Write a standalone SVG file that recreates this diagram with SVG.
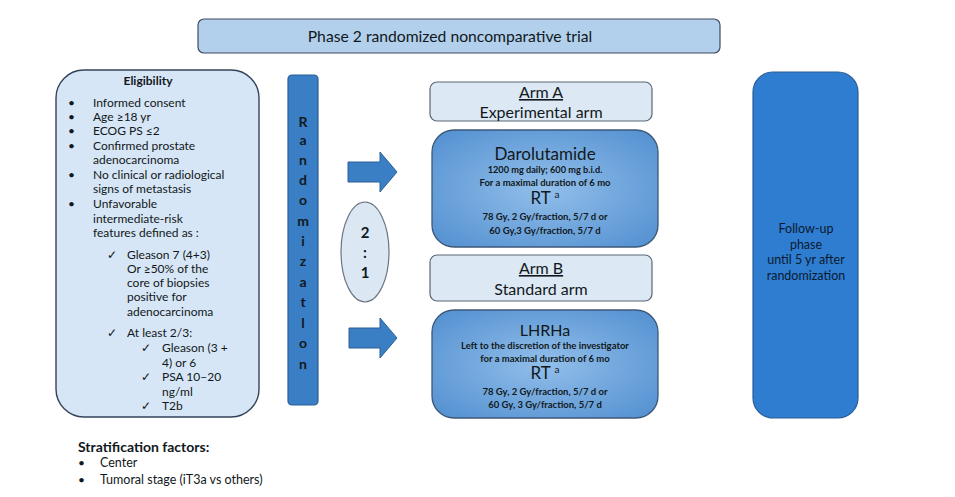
<svg xmlns="http://www.w3.org/2000/svg" width="955" height="497" viewBox="0 0 955 497">
<defs>
<style>
text{font-family:Lato,"Open Sans","Liberation Sans",sans-serif;fill:#111820}
.c{text-anchor:middle}
.b{font-weight:bold}
.el{font-size:12px}
.arm{font-size:16px}
.big{font-size:17px}
.sm{font-size:9.5px;font-weight:bold}
.fu{font-size:12.5px;fill:#0b1a30}
.rl{font-size:14px;font-weight:bold;fill:#10213d}
.light{fill:#d7e6f6;stroke:#33445a;stroke-width:1.4}
.hdr{fill:#dde8f5;stroke:#5a6675;stroke-width:1.2}
.dark{fill:url(#rg);stroke:#3d5878;stroke-width:1.3}
.arrow{fill:#3a7fc4;stroke:#2b5f96;stroke-width:1}
</style>
<radialGradient id="rg" cx="50%" cy="50%" r="65%">
<stop offset="0" stop-color="#92bfea"/>
<stop offset="1" stop-color="#5692d2"/>
</radialGradient>
</defs>
<rect width="955" height="497" fill="#ffffff"/>

<g id="title">
<rect x="198" y="19" width="522" height="34" rx="6" fill="#b2cfec" stroke="#3f4c5c" stroke-width="1.2"/>
<text class="c" x="450" y="42" style="font-size:15.7px">Phase 2 randomized noncomparative trial</text>
</g>

<g id="eligibility">
<rect class="light" x="56" y="70" width="203" height="347" rx="28"/>
<text class="c b" x="148" y="85" style="font-size:12px">Eligibility</text>
<g class="el">
<text x="68" y="107">•</text><text x="93" y="107">Informed consent</text>
<text x="68" y="121">•</text><text x="93" y="121">Age ≥18 yr</text>
<text x="68" y="135">•</text><text x="93" y="135">ECOG PS ≤2</text>
<text x="68" y="150">•</text><text x="93" y="150">Confirmed prostate</text>
<text x="93" y="164">adenocarcinoma</text>
<text x="68" y="179">•</text><text x="93" y="179">No clinical or radiological</text>
<text x="93" y="193">signs of metastasis</text>
<text x="68" y="208">•</text><text x="93" y="208">Unfavorable</text>
<text x="93" y="223">intermediate-risk</text>
<text x="93" y="237">features defined as :</text>
<text x="107" y="259">✓</text><text x="127" y="259">Gleason 7 (4+3)</text>
<text x="127" y="273">Or ≥50% of the</text>
<text x="127" y="287">core of biopsies</text>
<text x="127" y="301">positive for</text>
<text x="127" y="316">adenocarcinoma</text>
<text x="107" y="337">✓</text><text x="127" y="337">At least 2/3:</text>
<text x="141" y="352">✓</text><text x="162" y="352">Gleason (3 +</text>
<text x="162" y="367">4) or 6</text>
<text x="141" y="381">✓</text><text x="162" y="381">PSA 10–20</text>
<text x="162" y="396">ng/ml</text>
<text x="141" y="410">✓</text><text x="162" y="410">T2b</text>
</g>
</g>

<g id="stratification">
<text class="b" x="78" y="452" style="font-size:14px">Stratification factors:</text>
<text x="78" y="467" class="el">•</text><text x="100" y="467" style="font-size:12.5px">Center</text>
<text x="78" y="484" class="el">•</text><text x="100" y="484" style="font-size:12.5px">Tumoral stage (iT3a vs others)</text>
</g>

<g id="randomization">
<rect x="288" y="75" width="30" height="330" rx="4" fill="#3a7fc6" stroke="#2a5f96" stroke-width="1.2"/>
<g class="rl">
<text class="c" x="303" y="127">R</text>
<text class="c" x="303" y="145">a</text>
<text class="c" x="303" y="165">n</text>
<text class="c" x="303" y="185">d</text>
<text class="c" x="303" y="205">o</text>
<text class="c" x="303" y="226">m</text>
<text class="c" x="303" y="246">i</text>
<text class="c" x="303" y="266">z</text>
<text class="c" x="303" y="287">a</text>
<text class="c" x="303" y="307">t</text>
<text class="c" x="303" y="328">l</text>
<text class="c" x="303" y="348">o</text>
<text class="c" x="303" y="369">n</text>
</g>
</g>

<g id="ratio">
<ellipse cx="365" cy="252" rx="24" ry="50" fill="#dce7f4" stroke="#6b7480" stroke-width="1.2"/>
<text class="c b" x="365" y="238" style="font-size:15px">2</text>
<text class="c b" x="365" y="258" style="font-size:15px">:</text>
<text class="c b" x="365" y="278" style="font-size:15px">1</text>
</g>

<g id="connectors">
<path class="arrow" d="M348,162 H380 V152 L397,172 L380,192 V182 H348 Z"/>
<path class="arrow" d="M349,328 H380 V318 L397,338 L380,358 V348 H349 Z"/>
</g>

<g id="armA-header">
<rect class="hdr" x="430" y="82" width="222" height="39" rx="7"/>
<text class="c arm" x="541" y="98" text-decoration="underline">Arm A</text>
<text class="c arm" x="541" y="117.5">Experimental arm</text>
</g>

<g id="armA">
<rect class="dark" x="432" y="130" width="226" height="117" rx="22"/>
<text class="c big" x="545" y="160">Darolutamide</text>
<text class="c sm" x="545" y="173" style="font-size:9.2px">1200 mg daily; 600 mg b.i.d.</text>
<text class="c sm" x="545" y="186">For a maximal duration of 6 mo</text>
<text class="c big" x="545" y="204">RT <tspan style="font-size:10px" dy="-6">a</tspan></text>
<text class="c sm" x="545" y="220">78 Gy, 2 Gy/fraction, 5/7 d or</text>
<text class="c sm" x="545" y="234">60 Gy,3 Gy/fraction, 5/7 d</text>
</g>

<g id="armB-header">
<rect class="hdr" x="430" y="255" width="222" height="46" rx="7"/>
<text class="c arm" x="541" y="274" text-decoration="underline">Arm B</text>
<text class="c arm" x="541" y="295">Standard arm</text>
</g>

<g id="armB">
<rect class="dark" x="432" y="310" width="226" height="108" rx="22"/>
<text class="c big" x="545" y="336" style="font-size:16px">LHRHa</text>
<text class="c sm" x="545" y="349">Left to the discretion of the investigator</text>
<text class="c sm" x="545" y="362">for a maximal duration of 6 mo</text>
<text class="c big" x="545" y="379">RT <tspan style="font-size:10px" dy="-6">a</tspan></text>
<text class="c sm" x="545" y="395">78 Gy, 2 Gy/fraction, 5/7 d or</text>
<text class="c sm" x="545" y="408">60 Gy, 3 Gy/fraction, 5/7 d</text>
</g>

<g id="followup">
<rect x="753" y="72" width="105" height="346" rx="20" fill="#2f7dd0" stroke="#2a5d98" stroke-width="1.2"/>
<text class="c fu" x="806" y="233">Follow-up</text>
<text class="c fu" x="806" y="248.5">phase</text>
<text class="c fu" x="806" y="264">until 5 yr after</text>
<text class="c fu" x="806" y="279.5">randomization</text>
</g>
</svg>
